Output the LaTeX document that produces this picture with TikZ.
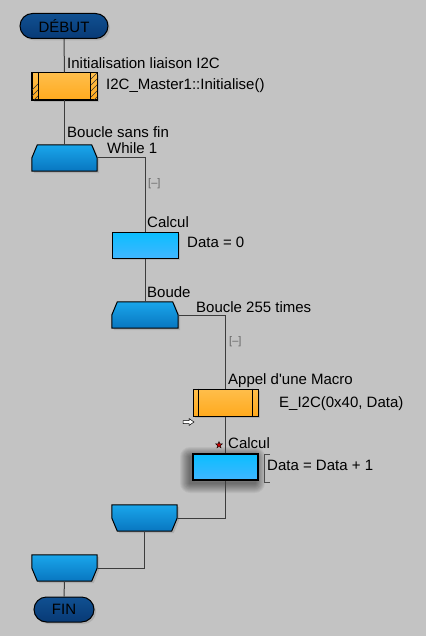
\documentclass[tikz,border=0pt]{standalone}
\usepackage{fontspec}
\setmainfont{Liberation Sans}
\usepackage{tikz}
\usetikzlibrary{positioning,shapes.geometric,shadows,calc}

\definecolor{bgray}{RGB}{195,195,195}
\definecolor{wire}{RGB}{60,60,60}
\definecolor{termtop}{RGB}{16,80,145}
\definecolor{termbot}{RGB}{8,58,118}
\definecolor{looptop}{RGB}{26,166,235}
\definecolor{loopbot}{RGB}{8,118,192}
\definecolor{calctop}{RGB}{10,190,255}
\definecolor{calcbot}{RGB}{64,182,255}
\definecolor{macrotop}{RGB}{255,190,75}
\definecolor{macrobot}{RGB}{255,170,30}

% loop shapes, chamfered on top (start) or bottom (end)
\newcommand{\loopbegshape}[1]{%
  \path[loopfill] ($(#1.north west)+(5.5,0)$) -- ($(#1.north east)+(-5.5,0)$) -- (#1.east)
    -- (#1.south east) -- (#1.south west) -- (#1.west) -- cycle;}
\newcommand{\loopendshape}[1]{%
  \path[loopfill] (#1.north west) -- (#1.north east) -- (#1.east)
    -- ($(#1.south east)+(-5.5,0)$) -- ($(#1.south west)+(5.5,0)$) -- (#1.west) -- cycle;}

\begin{document}
\begin{tikzpicture}[
  x=1pt, y=-1pt,
  font=\fontsize{15}{18}\selectfont,
  blk/.style={draw=black, line width=1pt, inner sep=0pt, minimum width=65pt, minimum height=26pt,
    drop shadow={shadow xshift=2pt, shadow yshift=-2pt, opacity=.3}},
  term/.style={blk, rounded corners=12.5pt, top color=termtop, bottom color=termbot, minimum height=25pt},
  macro/.style={blk, top color=macrotop, bottom color=macrobot, minimum height=27pt},
  calcbox/.style={blk, top color=calctop, bottom color=calcbot},
  loopbox/.style={inner sep=0pt, minimum width=65pt, minimum height=26pt},
  loopfill/.style={draw=black, line width=1pt, top color=looptop, bottom color=loopbot,
    drop shadow={shadow xshift=2pt, shadow yshift=-2pt, opacity=.3}},
  hatch/.style={line width=.7pt, black!80},
  lbl/.style={anchor=base west, inner sep=0pt},
  tog/.style={anchor=west, inner sep=0pt, font=\fontsize{11}{12}\selectfont, text=black!60},
  wire/.style={draw=wire, line width=1pt}]

  % background
  \fill[bgray] (0,0) rectangle (426,636);

  % glow under the selected box
  \foreach \k in {1,...,10}
    \fill[black, opacity=.05, rounded corners=\k pt] ($(222.5,470)+(-32.5-\k,-13-\k)$) rectangle ($(222.5,470)+(32.5+\k,13+\k)$);

  % blocks
  \node[term] (debut) at (64,26) [minimum width=88pt] {DÉBUT};
  \node[macro] (init) at (64.5,86.5) {};
  \node[loopbox] (while) at (64.5,158) {};
  \node[calcbox] (calc1) at (145,245) [minimum width=66pt] {};
  \node[loopbox] (rep) at (145,315) [minimum width=66pt] {};
  \node[macro] (call) at (225.5,402.5) {};
  \node[calcbox, line width=2pt, drop shadow={opacity=0}] (calc2) at (225.5,467) {};
  \node[loopbox] (repend) at (144.5,518) {};
  \node[loopbox] (whileend) at (64.5,568) {};
  \node[term] (fin) at (64,609.5) [minimum width=60pt] {FIN};

  \loopbegshape{while}
  \loopbegshape{rep}
  \loopendshape{repend}
  \loopendshape{whileend}

  % hatched sides of the init call
  \begin{scope}
    \clip (init.north west) rectangle ($(init.south west)+(7,0)$)
          ($(init.north east)+(-7,0)$) rectangle (init.south east);
    \foreach \i in {-10,-4,...,80}
      \draw[hatch] ($(init.south west)+(\i,0)$) -- ++(30,-30);
  \end{scope}
  \draw[line width=1pt] (init.north west) rectangle (init.south east);
  \draw[line width=.8pt] ($(init.north west)+(7,0)$) -- ($(init.south west)+(7,0)$);
  \draw[line width=.8pt] ($(init.north east)+(-7,0)$) -- ($(init.south east)+(-7,0)$);

  % bars of the macro call
  \draw[line width=.8pt] ($(call.north west)+(6,0)$) -- ($(call.south west)+(6,0)$);
  \draw[line width=.8pt] ($(call.north east)+(-6,0)$) -- ($(call.south east)+(-6,0)$);

  % connectors
  \path[wire] (debut) -- (init);
  \path[wire] (init) -- (while);
  \path[wire] (while.east) -| (calc1.north);
  \path[wire] (calc1) -- (rep);
  \path[wire] (rep.east) -| (call.north);
  \path[wire] (call) -- (calc2);
  \path[wire] (calc2.south) |- (repend.east);
  \path[wire] (repend.south) |- (whileend.east);
  \path[wire] (whileend) -- (fin);

  % labels
  \node[lbl] (t1) at (67,69) {Initialisation liaison I2C};
  \node[lbl] (v1) at (106,90) {I2C\_Master1::Initialise()};
  \node[lbl] (t2) at (67,138) {Boucle sans fin};
  \node[lbl] (v2) at (107,154) {While 1};
  \node[tog] (x1) at (148,184) {[–]};
  \node[lbl] (t3) at (147,227) {Calcul};
  \node[lbl] (v3) at (187,247) {Data = 0};
  \node[lbl] (t4) at (147,297) {Boude};
  \node[lbl] (v4) at (196,312) {Boucle 255 times};
  \node[tog] (x2) at (229,342) {[–]};
  \node[lbl] (t5) at (228,384) {Appel d\textquotesingle une Macro};
  \node[lbl] (v5) at (279,407) {E\_I2C(0x40, Data)};
  \node[lbl] (t6) at (228,448) {Calcul};
  \node[lbl] (v6) at (267,470) {Data = Data + 1};

  % marks
  \node[star, star points=5, star point ratio=2.3, minimum size=7pt, inner sep=0pt,
    fill=red!80!black, draw=black, line width=.4pt] (mark) at (219,445) {};
  \draw[black!70, line width=.8pt] (270,454) -- (264,454) -- (264,482) -- (270,482);
  \filldraw[fill=white, draw=black, line width=.5pt] (183,420.5) -- (189,420.5) -- (189,418.5)
    -- (194,422) -- (189,425.5) -- (189,423.5) -- (183,423.5) -- cycle;
\end{tikzpicture}
\end{document}
